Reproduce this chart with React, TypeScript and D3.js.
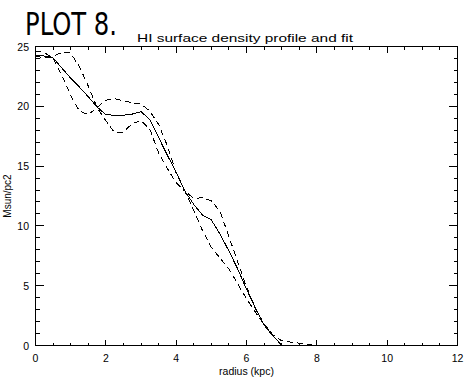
import React from "react";
import * as d3 from "d3";

const radius = [0, 0.25, 0.5, 0.75, 1.0, 1.25, 1.5, 1.75, 2.0, 2.25, 2.5, 2.75, 3.0, 3.25, 3.5, 3.75, 4.0, 4.25, 4.5, 4.75, 5.0, 5.25, 5.5, 5.75, 6.0, 6.25, 6.5, 6.75, 7.0, 7.25, 7.5, 7.75, 8.0];

const fitProfile = [24.3, 24.2, 24.05, 23.2, 22.35, 21.6, 20.8, 19.95, 19.3, 19.25, 19.25, 19.35, 19.55, 18.9, 17.4, 15.9, 14.5, 12.9, 11.8, 10.9, 10.5, 9.3, 7.9, 6.4, 4.7, 3.2, 1.7, 0.8, 0.05];

const lowerProfile = [24.2, 24.05, 24.2, 24.5, 24.45, 23.3, 21.7, 19.9, 18.8, 17.8, 17.85, 18.55, 18.8, 18.1, 16.1, 14.8, 13.6, 12.9, 11.3, 9.6, 8.2, 7.3, 6.4, 5.15, 3.9, 2.8, 1.75, 0.8, 0.0];

const upperProfile = [24.6, 24.5, 24.0, 22.6, 20.9, 19.6, 19.3, 19.9, 20.5, 20.65, 20.45, 20.3, 20.2, 19.6, 18.5, 16.7, 14.4, 12.9, 12.3, 12.35, 12.1, 11.2, 9.1, 7.0, 4.9, 3.1, 1.8, 0.9, 0.4, 0.28, 0.2, 0.08, 0.0];

const xMajorTicks = [0, 2, 4, 6, 8, 10, 12];
const xTickLabels = ["0", "2", "4", "6", "8", "10", "12"];
const yMajorTicks = [0, 5, 10, 15, 20, 25];
const yTickLabels = ["0", "5", "10", "15", "20", "25"];

const titleText = "PLOT 8.";
const subtitleText = "HI surface density profile and fit";
const xLabel = "radius (kpc)";
const yLabel = "Msun/pc2";

const W = 470;
const H = 383;
const left = 35.5;
const right = 457.5;
const top = 46.5;
const bottom = 345.5;

export default function App() {
  const x = d3.scaleLinear().domain([0, 12]).range([left, right]);
  const y = d3.scaleLinear().domain([0, 25]).range([bottom, top]);

  const xMinor = d3.range(0, 12.001, 0.5).filter((v) => Math.abs(v % 2) > 1e-6);
  const yMinor = d3.range(0, 25.001, 1).filter((v) => Math.abs(v % 5) > 1e-6);

  const mkLine = (vals: number[]) =>
    d3
      .line<number>()
      .x((_, i) => x(radius[i]))
      .y((v) => y(v))(vals) || "";

  const font = "'Liberation Sans', Arial, sans-serif";
  const xMajLen = 6;
  const xMinLen = 3;
  const yMajLen = 8.5;
  const yMinLen = 4;

  return (
    <svg
      width={W}
      height={H}
      style={{ position: "absolute", left: 0, top: 0, background: "#fff" }}
    >
      <rect x={0} y={0} width={W} height={H} fill="#fff" />
      <text
        x={25}
        y={35}
        fontFamily="'Liberation Sans Narrow', 'DejaVu Sans Condensed', Arial, sans-serif"
        fontSize={32}
        textLength={92}
        lengthAdjust="spacingAndGlyphs"
        fill="#000"
      >
        {titleText}
      </text>
      <text
        x={137}
        y={41.5}
        fontFamily={font}
        fontSize={11.5}
        textLength={216}
        lengthAdjust="spacingAndGlyphs"
        fill="#000"
      >
        {subtitleText}
      </text>

      <g stroke="#000" strokeWidth={1} fill="none" shapeRendering="crispEdges">
        <rect x={left} y={top} width={right - left} height={bottom - top} />
        {xMajorTicks.map((t) => (
          <g key={"xm" + t}>
            <line x1={x(t)} x2={x(t)} y1={bottom} y2={bottom - xMajLen} />
            <line x1={x(t)} x2={x(t)} y1={top} y2={top + xMajLen} />
          </g>
        ))}
        {xMinor.map((t) => (
          <g key={"xn" + t}>
            <line x1={x(t)} x2={x(t)} y1={bottom} y2={bottom - xMinLen} />
            <line x1={x(t)} x2={x(t)} y1={top} y2={top + xMinLen} />
          </g>
        ))}
        {yMajorTicks.map((t) => (
          <g key={"ym" + t}>
            <line x1={left} x2={left + yMajLen} y1={y(t)} y2={y(t)} />
            <line x1={right} x2={right - yMajLen} y1={y(t)} y2={y(t)} />
          </g>
        ))}
        {yMinor.map((t) => (
          <g key={"yn" + t}>
            <line x1={left} x2={left + yMinLen} y1={y(t)} y2={y(t)} />
            <line x1={right} x2={right - yMinLen} y1={y(t)} y2={y(t)} />
          </g>
        ))}
      </g>

      <g fontFamily={font} fontSize={10.5} fill="#000">
        {xMajorTicks.map((t, i) => (
          <text key={"xl" + t} x={x(t)} y={362} textAnchor="middle">
            {xTickLabels[i]}
          </text>
        ))}
        {yMajorTicks.map((t, i) => (
          <text
            key={"yl" + t}
            x={29}
            y={y(t)}
            textAnchor="end"
            dominantBaseline="central"
          >
            {yTickLabels[i]}
          </text>
        ))}
      </g>

      <text
        x={(left + right) / 2}
        y={375}
        textAnchor="middle"
        fontFamily={font}
        fontSize={10.5}
        fill="#000"
      >
        {xLabel}
      </text>
      <text
        transform={`translate(7,${(top + bottom) / 2}) rotate(-90)`}
        textAnchor="middle"
        dominantBaseline="central"
        fontFamily={font}
        fontSize={10}
        fill="#000"
      >
        {yLabel}
      </text>

      <g fill="none" stroke="#000" strokeWidth={1} shapeRendering="crispEdges">
        <path d={mkLine(fitProfile)} />
        <path d={mkLine(lowerProfile)} strokeDasharray="6,4" />
        <path d={mkLine(upperProfile)} strokeDasharray="6,4" />
      </g>
    </svg>
  );
}
